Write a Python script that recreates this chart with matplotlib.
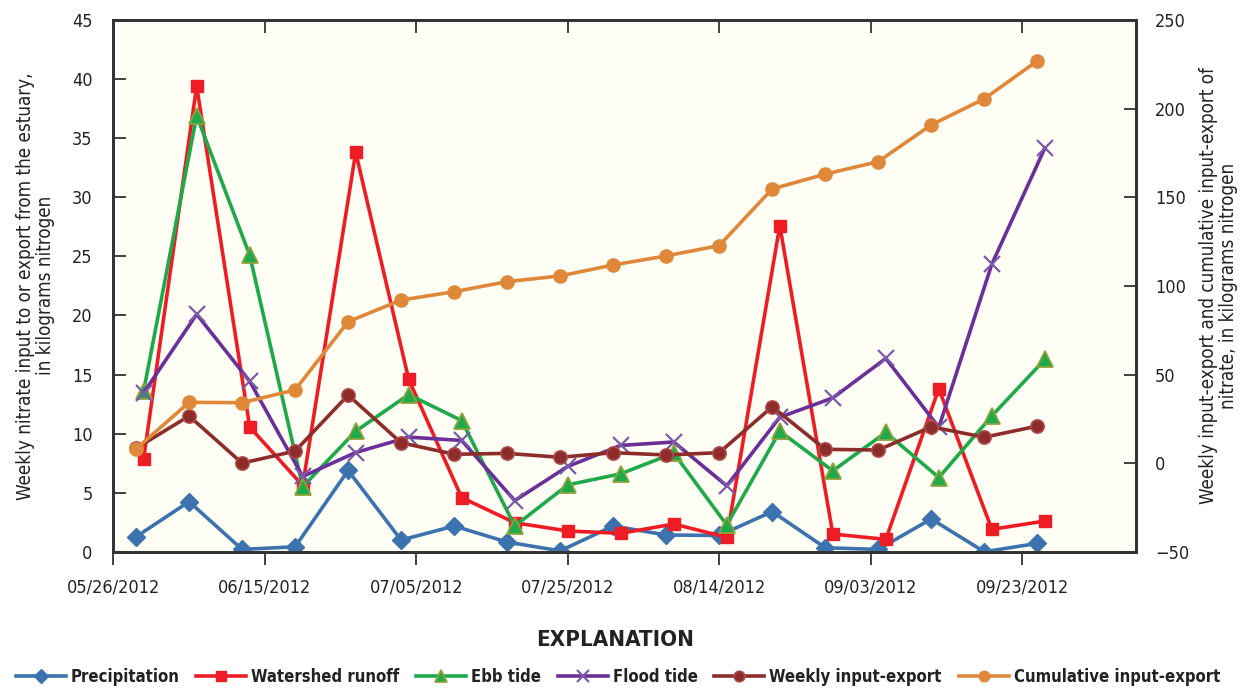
import numpy as np
import matplotlib
matplotlib.use("Agg")
import matplotlib.pyplot as plt
import matplotlib.dates as mdates
from matplotlib import font_manager as fm

# pick a narrow face if one is around
names = {(f.name, f.stretch) for f in fm.fontManager.ttflist}
if any(n == 'Liberation Sans Narrow' for n, s in names):
    plt.rcParams['font.family'] = ['Liberation Sans Narrow', 'DejaVu Sans']
    fs = 13.5
elif ('DejaVu Sans', 'condensed') in names or ('DejaVu Sans', 'semi-condensed') in names:
    plt.rcParams['font.family'] = ['DejaVu Sans']
    plt.rcParams['font.stretch'] = 'condensed'
    fs = 13.5
else:
    plt.rcParams['font.family'] = ['DejaVu Sans']
    fs = 11.5

# weekly sample dates (precip / weekly / cumulative), tides and runoff one day later
dates_a = np.arange(np.datetime64('2012-05-29'), np.datetime64('2012-09-26'), np.timedelta64(7, 'D'))
dates_b = dates_a + np.timedelta64(1, 'D')

precipitation = [1.27, 4.24, 0.2, 0.42, 6.88, 0.99, 2.18, 0.82, 0.08, 2.18, 1.42, 1.38, 3.4, 0.34, 0.2, 2.78, 0.0, 0.71]
watershed = [7.87, 39.4, 10.56, 5.6, 33.8, 14.58, 4.58, 2.46, 1.76, 1.56, 2.35, 1.22, 27.6, 1.5, 1.05, 13.8, 1.9, 2.6]
ebb_tide = [13.6, 36.9, 25.1, 5.5, 10.2, 13.3, 11.1, 2.18, 5.66, 6.6, 8.35, 2.27, 10.2, 6.85, 10.1, 6.28, 11.5, 16.27]
flood_tide = [13.45, 20.1, 14.43, 6.37, 8.4, 9.7, 9.42, 4.33, 7.22, 9.0, 9.29, 5.58, 11.38, 13.02, 16.36, 10.53, 24.34, 34.16]
# right axis
weekly_ie = [8.35, 26.6, 0.0, 6.8, 38.4, 11.5, 5.0, 5.5, 3.3, 5.9, 4.6, 5.9, 31.8, 7.8, 7.4, 20.5, 14.6, 20.9]
cumulative_ie = [8.0, 34.3, 34.1, 41.3, 79.8, 92.0, 96.7, 102.4, 105.6, 111.8, 116.9, 122.7, 154.7, 163.0, 170.1, 190.8, 205.5, 226.9]

labels = ['Precipitation', 'Watershed runoff', 'Ebb tide', 'Flood tide', 'Weekly input-export', 'Cumulative input-export']

fig = plt.figure(figsize=(12.43, 6.88), dpi=100)
ax = fig.add_axes([0.0912, 0.198, 0.8225, 0.773])
ax.set_facecolor('#FEFEF4')
ax2 = ax.twinx()

h1, = ax.plot(dates_a, precipitation, color='#3C72AD', lw=2.6, marker='D', ms=9, mfc='#3C72AD', mec='#3C72AD')
h2, = ax.plot(dates_b, watershed, color='#EE1D25', lw=2.6, marker='s', ms=8.5, mfc='#EE1D25', mec='#EE1D25')
h3, = ax.plot(dates_b, ebb_tide, color='#1EAA4A', lw=2.6, marker='^', ms=11, mfc='#1EAA4A', mec='#8FA23C', mew=1.3)
h4, = ax.plot(dates_b, flood_tide, color='#6A2F98', lw=2.6, marker='x', ms=11, mec='#7A5AA8', mew=1.6)
h5, = ax2.plot(dates_a, weekly_ie, color='#8C2D2C', lw=2.6, marker='o', ms=9.5, mfc='#8C2D2C', mec='#B04848', mew=1.2)
h6, = ax2.plot(dates_a, cumulative_ie, color='#E0883A', lw=2.6, marker='o', ms=9.5, mfc='#E0883A', mec='#E0883A')

start = np.datetime64('2012-05-26')
ax.set_xlim(mdates.date2num(start), mdates.date2num(np.datetime64('2012-10-08')))
ticks = [start + np.timedelta64(20 * i, 'D') for i in range(7)]
ax.set_xticks(mdates.date2num(ticks))
ax.xaxis.set_major_formatter(mdates.DateFormatter('%m/%d/%Y'))

ax.set_ylim(0, 45)
ax.set_yticks(np.arange(0, 46, 5))
ax2.set_ylim(-50, 250)
ax2.set_yticks(np.arange(-50, 251, 50))

for a in (ax, ax2):
    for s in a.spines.values():
        s.set_color('#333333')
        s.set_linewidth(2)
ax.tick_params(axis='x', direction='out', length=9, width=1.3, color='#333333', labelcolor='#222222',
               labelsize=fs - 0.5, pad=10)
ax.tick_params(axis='y', direction='in', length=9, width=1.3, color='#333333', labelcolor='#222222',
               labelsize=fs - 0.5, pad=15)
ax2.tick_params(axis='y', direction='in', length=9, width=1.3, color='#333333', labelcolor='#222222',
                labelsize=fs - 0.5, pad=14)
top = ax.secondary_xaxis('top')
top.set_xticks(mdates.date2num(ticks))
top.tick_params(direction='in', length=9, width=1.3, color='#333333', labeltop=False)
top.spines['top'].set_visible(False)

ax.set_ylabel('Weekly nitrate input to or export from the estuary,\nin kilograms nitrogen',
              fontsize=fs, color='#222222', labelpad=12, linespacing=1.05)
ax2.set_ylabel('Weekly input-export and cumulative input-export of\nnitrate, in kilograms nitrogen',
               fontsize=fs, color='#222222', rotation=90, labelpad=7, linespacing=1.05)

fig.text(0.495, 0.07, 'EXPLANATION', ha='center', va='center', fontsize=16, fontweight='bold', color='#222222')
leg = fig.legend([h1, h2, h3, h4, h5, h6], labels, loc='center', bbox_to_anchor=(0.497, 0.016),
                 ncol=6, frameon=False, handlelength=3.0, columnspacing=1.0, handletextpad=0.3,
                 markerscale=0.8, prop={'weight': 'bold', 'size': 12})
for t in leg.get_texts():
    t.set_color('#222222')

fig.savefig('out.png', dpi=100)
